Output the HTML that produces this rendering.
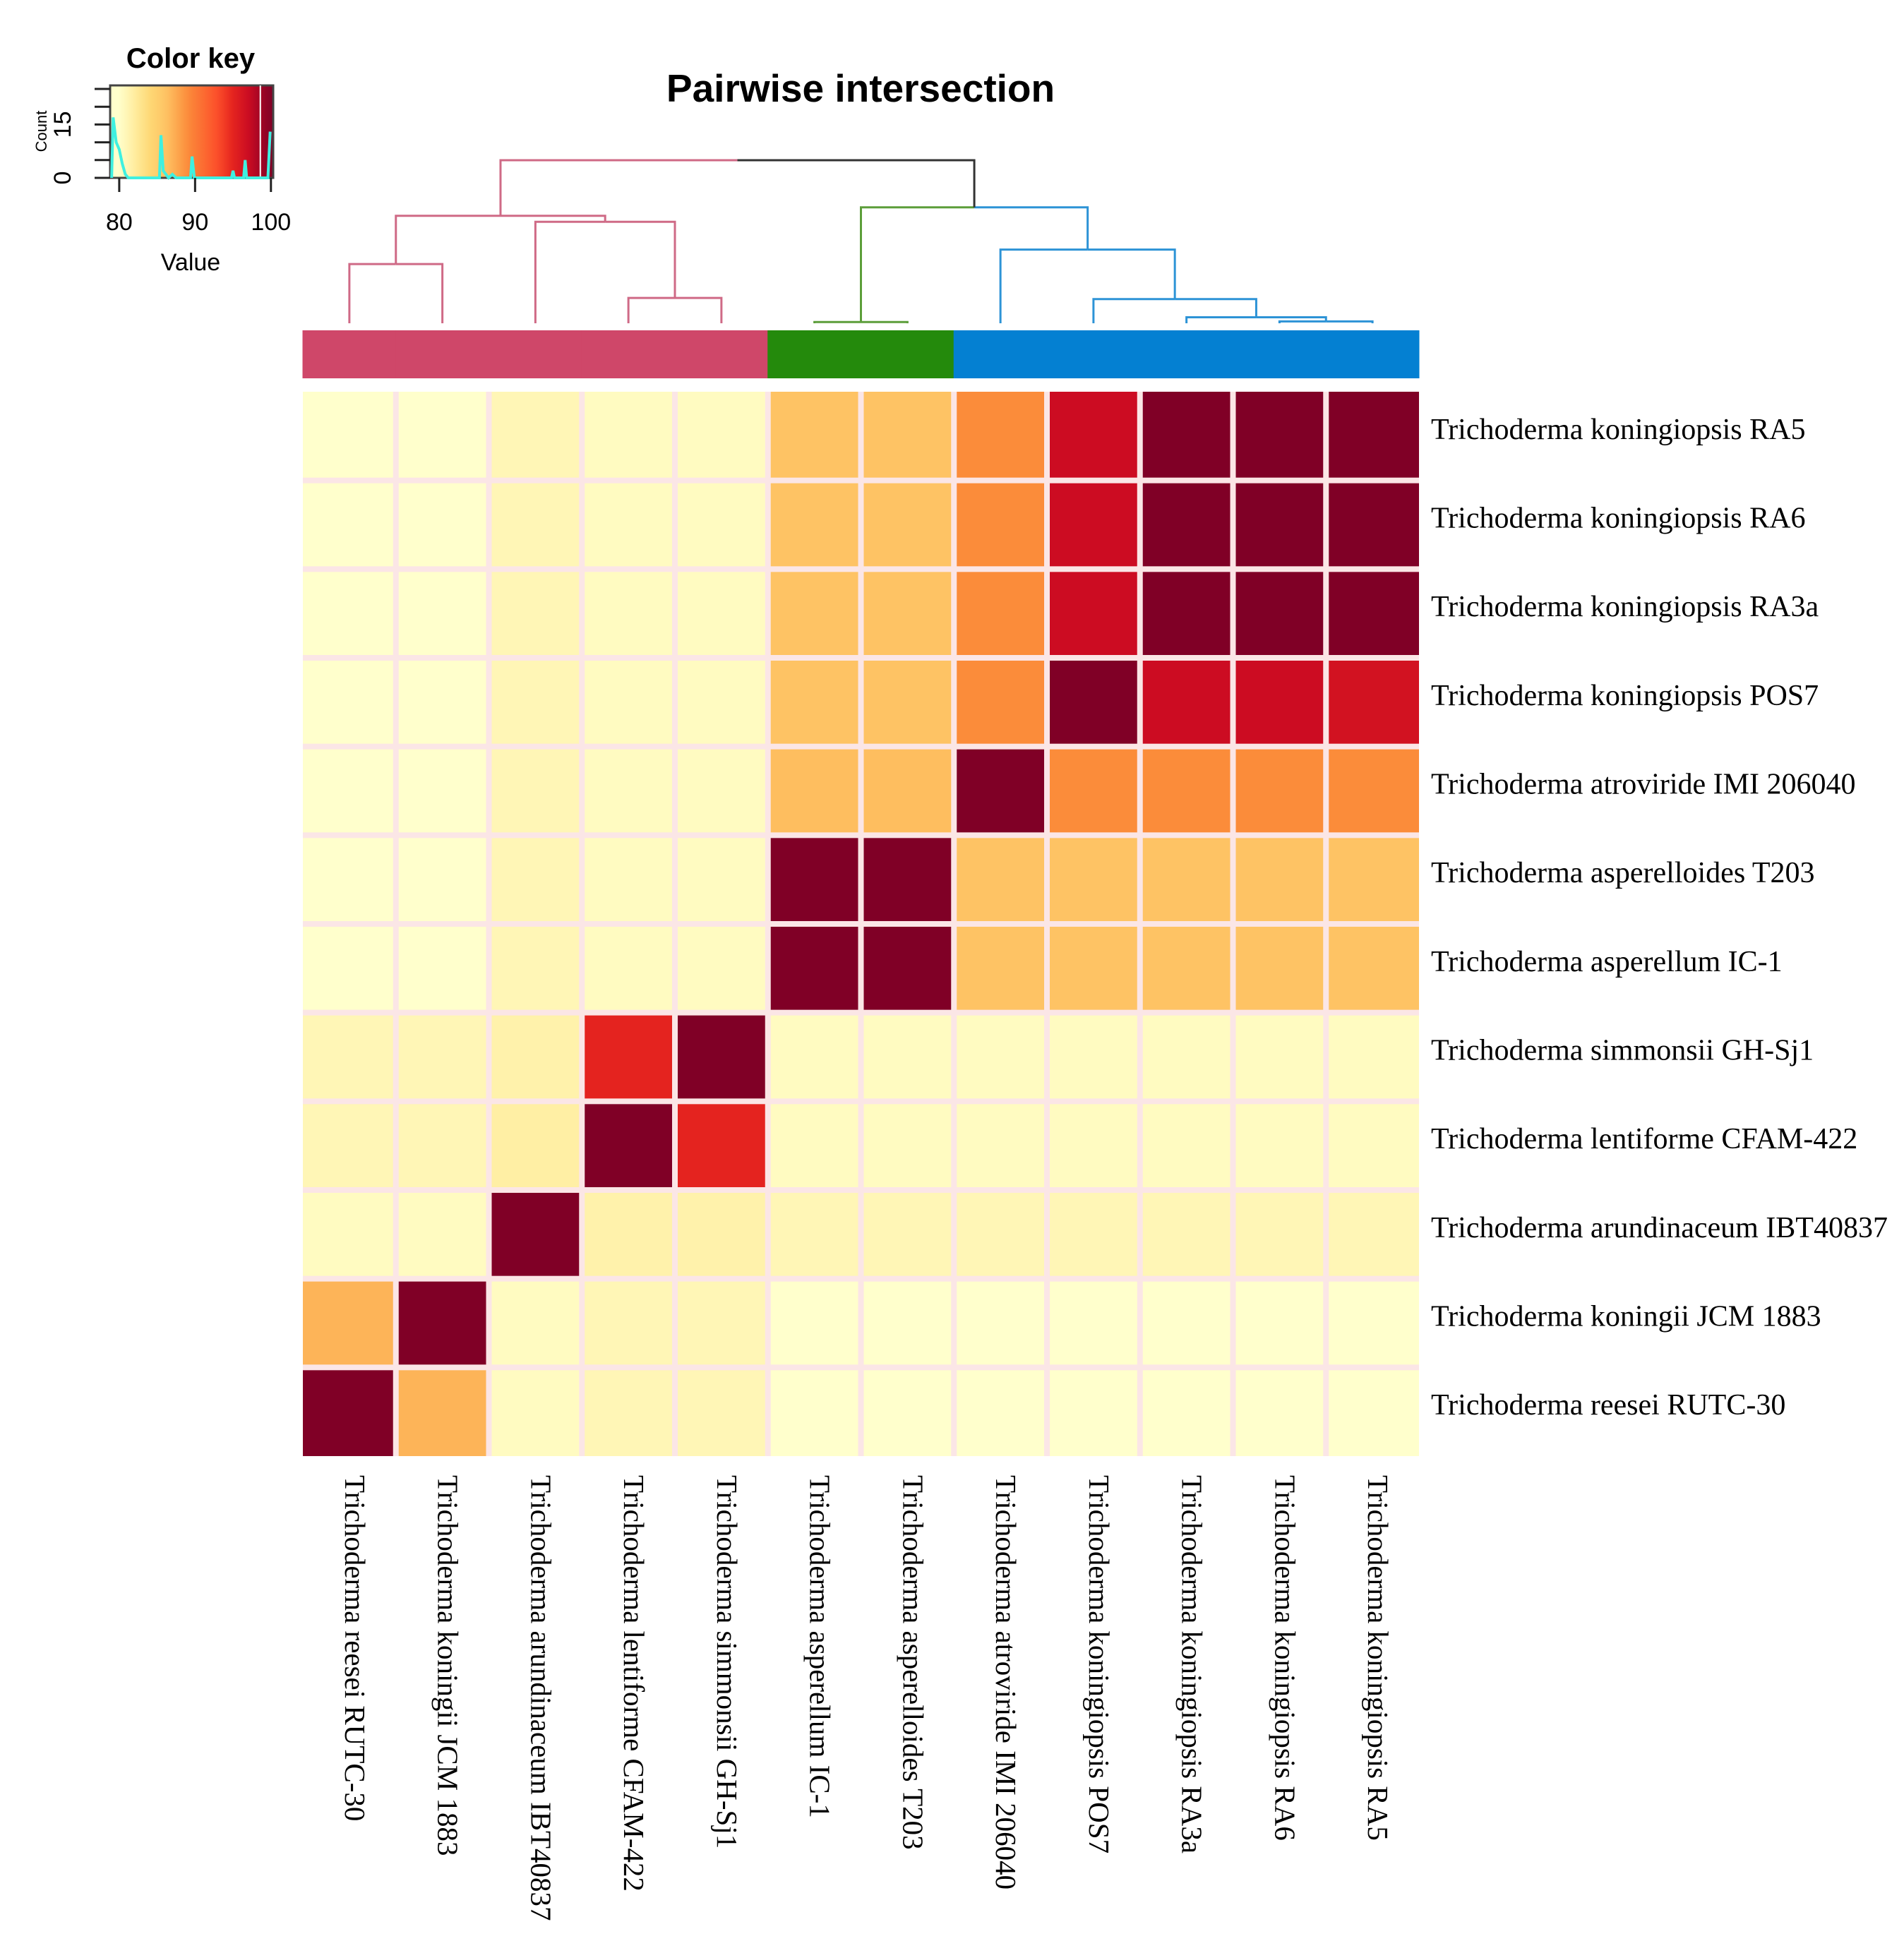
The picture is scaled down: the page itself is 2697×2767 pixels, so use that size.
<!DOCTYPE html>
<html><head><meta charset="utf-8"><style>
html,body{margin:0;padding:0;background:#fff;}
svg{display:block;}
</style></head><body>
<svg id="chart" width="2697" height="2767" viewBox="0 0 2697 2767" xmlns="http://www.w3.org/2000/svg">
<rect width="2697" height="2767" fill="#fff"/>
<text x="1219" y="144" text-anchor="middle" font-family="Liberation Sans, sans-serif" font-weight="bold" font-size="55">Pairwise intersection</text>
<g id="key"></g>
<g id="dendro"></g>
<g id="strip"></g>
<g id="cells"></g>
<g id="rowlabels"></g>
<g id="collabels"></g>
</svg>
<script>
const rowNames = ["Trichoderma koningiopsis RA5","Trichoderma koningiopsis RA6","Trichoderma koningiopsis RA3a","Trichoderma koningiopsis POS7","Trichoderma atroviride  IMI 206040","Trichoderma asperelloides T203","Trichoderma asperellum IC-1","Trichoderma simmonsii GH-Sj1","Trichoderma lentiforme CFAM-422","Trichoderma arundinaceum IBT40837","Trichoderma koningii JCM 1883","Trichoderma reesei RUTC-30"];
const colNames = ["Trichoderma reesei RUTC-30","Trichoderma koningii JCM 1883","Trichoderma arundinaceum IBT40837","Trichoderma lentiforme CFAM-422","Trichoderma simmonsii GH-Sj1","Trichoderma asperellum IC-1","Trichoderma asperelloides T203","Trichoderma atroviride  IMI 206040","Trichoderma koningiopsis POS7","Trichoderma koningiopsis RA3a","Trichoderma koningiopsis RA6","Trichoderma koningiopsis RA5"];
const values = [
[80,80,81,80.5,80.5,86,86,89,97,100,100,100],
[80,80,81,80.5,80.5,86,86,89,97,100,100,100],
[80,80,81,80.5,80.5,86,86,89,97,100,100,100],
[80,80,81,80.5,80.5,86,86,89,100,97,97,96.5],
[80,80,81,80.5,80.5,86.5,86.5,100,89,89,89,89],
[80,80,81,80.5,80.5,100,100,86,86,86,86,86],
[80,80,81,80.5,80.5,100,100,86,86,86,86,86],
[81,81,81.5,95,100,80.5,80.5,80.5,80.5,80.5,80.5,80.5],
[81,81,81.8,100,95,80.5,80.5,80.5,80.5,80.5,80.5,80.5],
[80.5,80.5,100,81.5,81.5,81,81,81,81,81,81,81],
[87,100,80.5,81,81,80,80,80,80,80,80,80],
[100,87,80.5,81,81,80,80,80,80,80,80,80]];
const clusterGroups = [0,0,0,0,0,1,1,2,2,2,2,2];
const clusterColors = ["#cf4769","#248a0c","#0480d2"];
// merges: [left, right, height, leftColor, rightColor]; id<=0 leaf (column -id), id>0 merge (1-based)
const merges = [
[-10,-11,0.15,2,2],
[-9,1,0.5,2,2],
[-3,-4,2.1,0,0],
[-8,2,2.0,2,2],
[-5,-6,0.1,1,1],
[-0,-1,4.9,0,0],
[-2,3,8.4,0,0],
[-7,4,6.1,2,2],
[6,7,8.9,0,0],
[5,8,9.6,1,2],
[9,10,13.5,0,3]];
const keyTicks = [80,90,100];
const countTicks = [0,15];
const histX = [79,79.2,79.6,80,80.4,80.8,81.2,85.3,85.5,85.8,86.5,87,87.5,89.4,89.6,89.9,94.8,95,95.2,96.4,96.6,96.8,99.6,99.9];
const histY = [0,17,10,8,4,1,0,0,12,2,0,1,0,0,6,0,0,2,0,0,5,0,0,13];

const NS="http://www.w3.org/2000/svg";
function mk(tag,attrs,parent){const e=document.createElementNS(NS,tag);for(const k in attrs)e.setAttribute(k,attrs[k]);parent.appendChild(e);return e;}
const X0=429,X1=2010,Y0=555,Y1=2063;
const nC=colNames.length,nR=rowNames.length;
const cw=(X1-X0)/nC,rh=(Y1-Y0)/nR;
const xCol=i=>X0+cw*i, yRow=j=>Y0+rh*j;
const stops=[[80,[255,255,204]],[82,[255,237,160]],[84,[254,217,118]],[86.5,[254,190,95]],[89,[251,140,58]],[93,[252,78,42]],[95,[228,35,31]],[97,[204,12,34]],[100,[128,0,38]]];
function color(v){if(v<=stops[0][0])return "rgb("+stops[0][1]+")";for(let i=1;i<stops.length;i++){if(v<=stops[i][0]){const a=stops[i-1],b=stops[i],t=(v-a[0])/(b[0]-a[0]);const c=a[1].map((x,k)=>Math.round(x+(b[1][k]-x)*t));return "rgb("+c+")";}}return "rgb("+stops[stops.length-1][1]+")";}

// cells
const cells=document.getElementById('cells');
mk('rect',{x:X0,y:Y0,width:X1-X0,height:Y1-Y0,fill:'#fbe6e6'},cells);
const gap=8;
for(let r=0;r<nR;r++)for(let c=0;c<nC;c++){
 const e=mk('rect',{x:xCol(c)+(c?gap/2:0),y:yRow(r)+(r?gap/2:0),width:cw-(c?gap/2:0)-(c<nC-1?gap/2:0),height:rh-(r?gap/2:0)-(r<nR-1?gap/2:0),fill:color(values[r][c])},cells);
 
 
}
// row labels
const rl=document.getElementById('rowlabels');
rowNames.forEach((n,r)=>{const t=mk('text',{x:2027,y:yRow(r)+rh/2+4,'font-family':'Liberation Serif, serif','font-size':42},rl);t.textContent=n;
 
 });
// col labels
const cl=document.getElementById('collabels');
colNames.forEach((n,c)=>{const x=xCol(c)+cw/2-6,y=2090;const t=mk('text',{x:x,y:y,transform:`rotate(90 ${x} ${y})`,'font-family':'Liberation Serif, serif','font-size':41},cl);t.textContent=n;
 
 });
// strip
const st=document.getElementById('strip');
for(let c=0;c<nC;c++){const e=mk('rect',{x:xCol(c)-0.5,y:468,width:cw+1,height:68,fill:clusterColors[clusterGroups[c]]},st);
 
 }
// dendrogram
const dg=document.getElementById('dendro');
const leafY=458,topY=227,hMax=13.5;
const yH=h=>leafY-(leafY-topY)*h/hMax;
const pos=[];
function node(id){if(id<=0){return {x:xCol(-id)+cw/2,y:leafY};}return pos[id];}
const dcol=["#cf6a86","#5c9e3a","#2d93d6","#333"];
merges.forEach((m,i)=>{
 const a=node(m[0]), b=node(m[1]);
 const y=yH(m[2]), mid=(a.x+b.x)/2;
 const p1=mk('path',{d:`M${a.x},${a.y}V${y}H${mid}`,fill:'none',stroke:dcol[m[3]],'stroke-width':3},dg);
 
 
 const p2=mk('path',{d:`M${mid},${y}H${b.x}V${b.y}`,fill:'none',stroke:dcol[m[4]],'stroke-width':3},dg);
 
 
 pos[i+1]={x:mid,y:y};
});

// color key
const kg=document.getElementById('key');
const KX0=156,KX1=387,KY0=121,KY1=252,V0=78.8,V1=100.3;
const kx=v=>KX0+(KX1-KX0)*(v-V0)/(V1-V0);
const ky=n=>KY1-(KY1-KY0)*n/26;
const defs=mk('defs',{},kg);const lg=mk('linearGradient',{id:'kg',x1:0,x2:1,y1:0,y2:0},defs);
for(let i=0;i<=20;i++){const v=V0+(V1-V0)*i/20;mk('stop',{offset:i/20,'stop-color':color(v)},lg);}
const kr=mk('rect',{x:KX0,y:KY0,width:KX1-KX0,height:KY1-KY0,fill:'url(#kg)',stroke:'#444','stroke-width':3},kg);


mk('line',{x1:kx(98.6),x2:kx(98.6),y1:KY0,y2:KY1,stroke:'#fff','stroke-width':2},kg);
const kt=mk('text',{x:270,y:96,'text-anchor':'middle','font-family':'Liberation Sans, sans-serif','font-weight':'bold','font-size':40},kg);kt.textContent='Color key';

let d='';histX.forEach((v,i)=>{d+=(i?'L':'M')+kx(v)+','+ky(histY[i]);});
const hp=mk('path',{d:d,fill:'none',stroke:'#3ff0e0','stroke-width':4},kg);

keyTicks.forEach(v=>{mk('line',{x1:kx(v),x2:kx(v),y1:KY1,y2:KY1+20,stroke:'#222','stroke-width':3},kg);
 const t=mk('text',{x:kx(v),y:326,'text-anchor':'middle','font-family':'Liberation Sans, sans-serif','font-size':34},kg);t.textContent=v;
 });
for(let n=0;n<=25;n+=5)mk('line',{x1:KX0-22,x2:KX0,y1:ky(n),y2:ky(n),stroke:'#222','stroke-width':3},kg);
countTicks.forEach(n=>{const x=100,y=ky(n);const t=mk('text',{x:x,y:y,transform:`rotate(-90 ${x} ${y})`,'text-anchor':'middle','font-family':'Liberation Sans, sans-serif','font-size':34},kg);t.textContent=n;
 });
const ct=mk('text',{x:66,y:186,transform:'rotate(-90 66 186)','text-anchor':'middle','font-family':'Liberation Sans, sans-serif','font-size':22},kg);ct.textContent='Count';

const vt=mk('text',{x:270,y:383,'text-anchor':'middle','font-family':'Liberation Sans, sans-serif','font-size':34},kg);vt.textContent='Value';

</script>
</body></html>
